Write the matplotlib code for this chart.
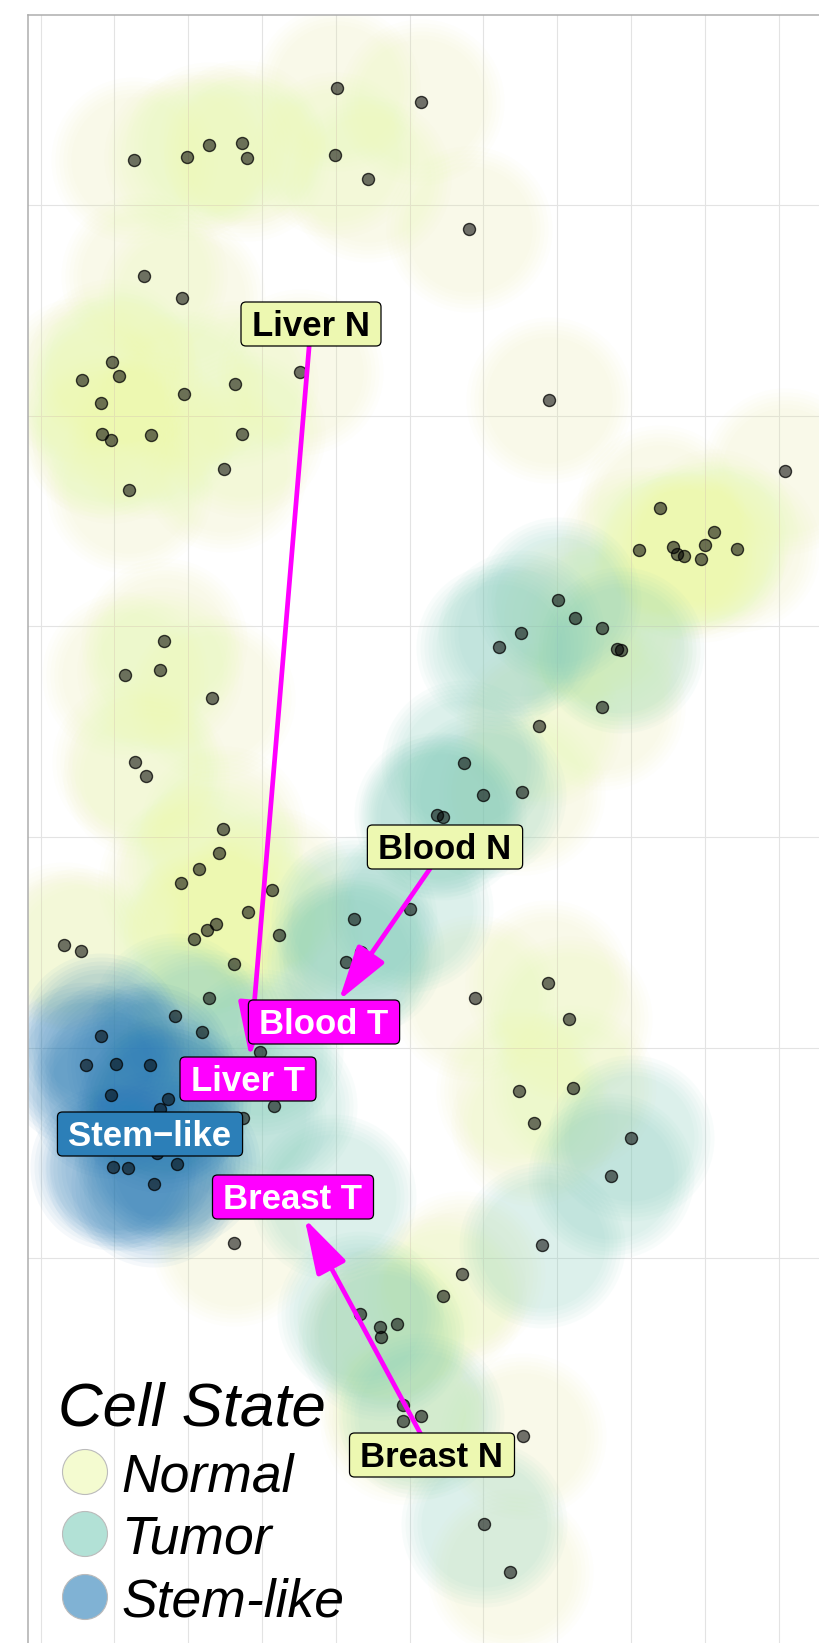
import numpy as np
import matplotlib.pyplot as plt
import matplotlib.patches as mpatches

plt.rcParams['font.family'] = ['Liberation Sans', 'DejaVu Sans']

# cell embedding (x to the right, y downwards)
normal_x = [337, 421, 134, 187, 209, 242, 247, 335, 368, 469, 144, 182, 112, 82, 119, 184, 235, 300,
            101, 549, 102, 111, 151, 242, 224, 129,
            785, 660, 714, 705, 737, 639, 673, 677, 684, 701,
            575, 602, 617, 602, 539, 522,
            164, 125, 160, 212, 135, 146,
            223, 219, 199, 181, 272, 248, 216, 207, 194, 279, 64, 81, 234,
            209, 234,
            475, 548, 569, 519, 573, 534,
            462, 443, 380, 397, 403, 403, 523, 510]
normal_y = [88, 102, 160, 157, 145, 143, 158, 155, 179, 229, 276, 298, 362, 380, 376, 394, 384, 372,
            403, 400, 434, 440, 435, 434, 469, 490,
            471, 508, 532, 545, 549, 550, 547, 554, 556, 559,
            618, 628, 649, 707, 726, 792,
            641, 675, 670, 698, 762, 776,
            829, 853, 869, 883, 890, 912, 924, 930, 939, 935, 945, 951, 964,
            998, 1243,
            998, 983, 1019, 1091, 1088, 1123,
            1274, 1296, 1327, 1324, 1405, 1421, 1436, 1572]

tumor_x = [558, 521, 499, 621,
           464, 483, 437, 443,
           354, 361, 346, 410,
           175, 202, 260, 274, 243,
           631, 611, 542, 360, 381, 421, 484, 333]
tumor_y = [600, 633, 647, 650,
           763, 795, 815, 817,
           919, 952, 962, 909,
           1016, 1032, 1052, 1106, 1118,
           1138, 1176, 1245, 1314, 1337, 1416, 1524, 1197]

stem_x = [101, 86, 116, 150, 111, 168, 160, 157, 113, 128, 177, 154]
stem_y = [1036, 1065, 1064, 1065, 1095, 1099, 1109, 1153, 1167, 1168, 1164, 1184]

states = ['Normal', 'Tumor', 'Stem-like']
state_colors = ['#edf8b1', '#7fcdbb', '#2c7fb8']
key_colors = ['#f4fbd0', '#b2e1d6', '#80b2d4']

# tissue labels (placed at their group positions)
group_names = ['Liver N', 'Blood N', 'Breast N', 'Liver T', 'Blood T', 'Breast T', 'Stem\u2212like']
group_x = [311, 445, 432, 248, 324, 293, 150]
group_y = [324, 847, 1455, 1079, 1022, 1197, 1134]
group_kind = ['N', 'N', 'N', 'T', 'T', 'T', 'S']
transitions = [('Liver N', 'Liver T'), ('Blood N', 'Blood T'), ('Breast N', 'Breast T')]

label_style = {'N': ('#edf8b1', 'black'), 'T': ('#ff00ff', 'white'), 'S': ('#2c7fb8', 'white')}

W, H = 820, 1643
fig = plt.figure(figsize=(W / 100, H / 100), dpi=100)
# only the top-left part of the panel is visible in the image
x0, x1 = 28.3, 1000
y0, y1 = 15, 1800
ax = fig.add_axes([x0 / W, 1 - y1 / H, (x1 - x0) / W, (y1 - y0) / H])
ax.set_xlim(x0, x1)
ax.set_ylim(y1, y0)

ax.set_xticks(40.7 + 73.8 * np.arange(13))
ax.set_yticks(205.2 + 210.6 * np.arange(6))
ax.grid(True, color='#e3e3e3', lw=0.8)
ax.set_axisbelow(True)
ax.tick_params(length=0, labelbottom=False, labelleft=False)
for s in ['right', 'bottom']:
    ax.spines[s].set_visible(False)
for s in ['left', 'top']:
    ax.spines[s].set_color('#adadad')
    ax.spines[s].set_linewidth(1.1)

pt = 72 / 100  # points per pixel

# soft glow round each cell
groups = [(normal_x, normal_y), (tumor_x, tumor_y), (stem_x, stem_y)]
for (gx, gy), col in zip(groups, state_colors):
    for r in [83, 79, 75, 71, 67, 63]:
        ax.scatter(gx, gy, s=(2 * r * pt) ** 2, color=col, alpha=0.048, lw=0, zorder=1)

all_x = normal_x + tumor_x + stem_x
all_y = normal_y + tumor_y + stem_y
ax.scatter(all_x, all_y, s=(12 * pt) ** 2, facecolor=(0, 0, 0, 0.55),
           edgecolor=(0, 0, 0, 0.75), lw=1.0, zorder=2)

# labels with boxes
renderer = fig.canvas.get_renderer()
fs = 25
cap = 0.716 * fs / pt
boxes = {}
for name, x, y, kind in zip(group_names, group_x, group_y, group_kind):
    fill, tc = label_style[kind]
    t = ax.text(x, y + cap / 2, name, ha='center', va='baseline', fontsize=fs,
                fontweight='bold', color=tc, zorder=6)
    w = t.get_window_extent(renderer=renderer).width + 22
    box = mpatches.FancyBboxPatch((x - w / 2, y - 22), w, 44,
                                  boxstyle='round,pad=0,rounding_size=5',
                                  fc=fill, ec='black', lw=0.9, zorder=5)
    ax.add_patch(box)
    boxes[name] = (box, x, y)

for a, b in transitions:
    pa, xa, ya = boxes[a]
    pb, xb, yb = boxes[b]
    ax.annotate('', xy=(xb, yb), xytext=(xa, ya), zorder=4,
                arrowprops=dict(arrowstyle='-|>,head_length=3.4,head_width=1.0',
                                mutation_scale=10, color='#ff00ff', lw=3.4,
                                shrinkA=0, shrinkB=0, patchA=pa, patchB=pb))

# legend
ax.text(58.5, 1426, 'Cell State', fontsize=44.5, style='italic', ha='left',
        va='baseline', zorder=8)
key_y = [1472, 1534, 1597]
ax.scatter([85] * 3, key_y, s=(45 * pt) ** 2, c=key_colors, edgecolors='#bbbbbb',
           lw=0.8, zorder=8)
lfs = 38.5
for name, ky in zip(states, key_y):
    ax.text(121, ky + 0.716 * lfs / pt / 2, name, fontsize=lfs, style='italic',
            ha='left', va='baseline', zorder=8)

fig.savefig('out.png', dpi=100)
